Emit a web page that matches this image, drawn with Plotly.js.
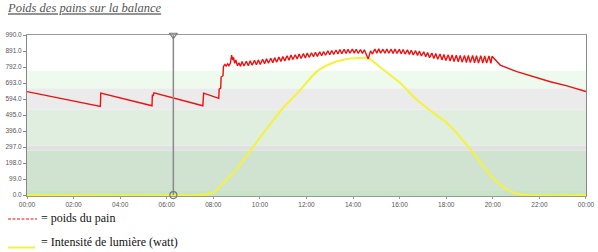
<!DOCTYPE html>
<html><head><meta charset="utf-8">
<script src="https://cdn.plot.ly/plotly-3.0.1.min.js"></script>
<style>html,body{margin:0;padding:0;background:#fff}#chart{width:598px;height:252px}</style>
</head><body><div id="chart"></div>
<script>
// ---- data (minutes of the day, grams / watts) ----
const weightMinutesMorning = [0,189,190,322,323,325,327,453,455,494,495,499,500,505,506,510,513,517,520,524,527,530,532,535,538,542,546,550];
const weightValuesMorning  = [640,548,630,552,622,612,632,552,630,598,655,662,730,738,795,808,798,812,800,815,866,835,852,815,835,800,818,796];
const weightMinutesDay = [554,559,565,570,575,580,586,591,596,601,607,612,617,622,628,633,638,643,649,654,659,664,670,675,680,685,691,696,701,706,712,717,722,727,733,738,743,748,754,759,764,769,775,780,785,790,796,801,806,811,817,822,827,832,838,843,848,853,859,864,869,874,879,885,890,896,901,906,911,917,922,927,932,938,943,948,953,959,964,969,974,980,985,990,995,1001,1006,1011,1016,1022,1027,1032,1037,1043,1048,1053,1058,1064,1069,1074,1079,1085,1090,1095,1100,1106,1111,1116,1121,1127,1132,1137,1142,1148,1153,1158,1163,1169,1174,1179,1184,1190,1195,1198];
const weightValuesDay = [826,798,828,800,830,803,833,806,836,808,840,812,843,815,846,818,850,822,853,826,857,830,862,834,866,838,868,842,872,845,875,848,878,852,880,855,883,858,886,862,888,865,892,868,894,870,897,872,900,875,902,876,901,877,903,878,902,877,900,876,899,874,842,892,872,903,878,904,878,902,877,903,877,902,876,903,876,901,874,900,872,898,870,896,867,893,864,890,860,886,856,882,850,878,845,875,840,872,836,869,832,867,829,866,826,865,824,864,822,864,820,863,819,863,818,862,817,862,816,861,816,861,815,858];
const weightMinutesEvening = [1219,1262,1305,1348,1391,1440];
const weightValuesEvening  = [804,763,732,701,675,640];

const lightMinutes = [0,440,464,480,515,540,570,600,635,660,704,747,790,835,860,880,919,962,1005,1065,1080,1140,1203,1253,1290,1440];
const lightValues  = [0,0,5,15,96,160,255,355,465,540,650,765,820,845,848,845,773,691,588,476,450,290,97,15,0,0];

const cursorMinute = 377; // 06:17
const yTickStep = 99;
const yMax = 990;
const bandEdges = [0,25,275,306,527,660,769];

const titleText = 'Poids des pains sur la balance';
const legendWeight = '= poids du pain';
const legendLight = '= Intensité de lumière (watt)';

// ---- helpers ----
const base = Date.UTC(2000,0,1);
const toMs = m => base + m*60000;

const bandColors = ['#c8e4c8','#d0e2d0','#e1e1e1','#e0eee0','#ebebeb','#eefaee'];

const W = 598, H = 252, L = 27, R = 12, T = 35, B = 56;
const pw = W - L - R, ph = H - T - B;
const px2x = px => (px - L) / pw;
const py2y = py => (H - B - py) / ph;

const weightX = weightMinutesMorning.concat(weightMinutesDay, weightMinutesEvening).map(toMs);
const weightY = weightValuesMorning.concat(weightValuesDay, weightValuesEvening);

const traces = [
  {x: lightMinutes.map(toMs), y: lightValues, type:'scatter', mode:'lines',
   line:{color:'#f4f23c', width:2, shape:'spline', smoothing:0.8}, hoverinfo:'skip'},
  {x: weightX, y: weightY, type:'scatter', mode:'lines',
   line:{color:'#ee1111', width:1.4}, hoverinfo:'skip'},
  {x:[toMs(cursorMinute), toMs(cursorMinute)], y:[yMax, 0], type:'scatter', mode:'lines+markers',
   line:{color:'#8a8a8a', width:1.5},
   marker:{symbol:['triangle-down-open','circle-open'], size:7, color:'#777', line:{width:1.2, color:'#777'}},
   cliponaxis:false, hoverinfo:'skip'}
];

const shapes = [];
for (let i = 0; i < bandEdges.length - 1; i++) {
  shapes.push({type:'rect', xref:'paper', yref:'y', x0:0, x1:1, y0:(i===0 ? -10 : bandEdges[i]), y1:bandEdges[i+1],
    fillcolor:bandColors[i], line:{width:0}, layer:'below'});
}
shapes.push({type:'line', xref:'paper', yref:'paper', x0:px2x(8), x1:px2x(37), y0:py2y(219), y1:py2y(219),
  line:{color:'#ee1111', width:1.2, dash:'3px,1.5px'}});
shapes.push({type:'line', xref:'paper', yref:'paper', x0:px2x(8), x1:px2x(35), y0:py2y(247.5), y1:py2y(247.5),
  line:{color:'#f4f23c', width:2}});

const annotations = [
  {xref:'paper', yref:'paper', x:px2x(39), y:py2y(218), xanchor:'left', yanchor:'middle', showarrow:false,
   text:legendWeight, font:{family:'Liberation Serif, serif', size:12, color:'#111'}},
  {xref:'paper', yref:'paper', x:px2x(39), y:py2y(242), xanchor:'left', yanchor:'middle', showarrow:false,
   text:legendLight, font:{family:'Liberation Serif, serif', size:12, color:'#111'}}
];

const layout = {
  width:W, height:H, margin:{l:L, r:R, t:T, b:B, pad:0},
  paper_bgcolor:'#fff', plot_bgcolor:'#fff', showlegend:false,
  title:{text:'<i><u>'+titleText+'</u></i>', x:8/W, xanchor:'left', xref:'container',
         y:1-8/H, yanchor:'middle', yref:'container',
         font:{family:'Liberation Serif, serif', size:12.5, color:'#555'}},
  xaxis:{type:'date', range:[toMs(0), toMs(1440)+1000], dtick:7200000, tick0:toMs(0), tickformat:'%H:%M',
         showgrid:false, zeroline:false, showline:true, mirror:true, linecolor:'#999', linewidth:1,
         layer:'below traces',
         ticks:'outside', ticklen:2, tickcolor:'#999',
         tickfont:{family:'Liberation Sans, Arial, sans-serif', size:6.5, color:'#555'}, fixedrange:true},
  yaxis:{range:[-6, yMax], dtick:yTickStep, tick0:0, tickformat:'.1f',
         showgrid:false, zeroline:false, showline:true, mirror:true, linecolor:'#888', linewidth:1,
         ticks:'outside', ticklen:3, tickcolor:'#888',
         tickfont:{family:'Liberation Sans, Arial, sans-serif', size:6.5, color:'#555'}, fixedrange:true},
  shapes:shapes, annotations:annotations
};

Plotly.newPlot('chart', traces, layout, {staticPlot:true, displayModeBar:false});
</script></body></html>
